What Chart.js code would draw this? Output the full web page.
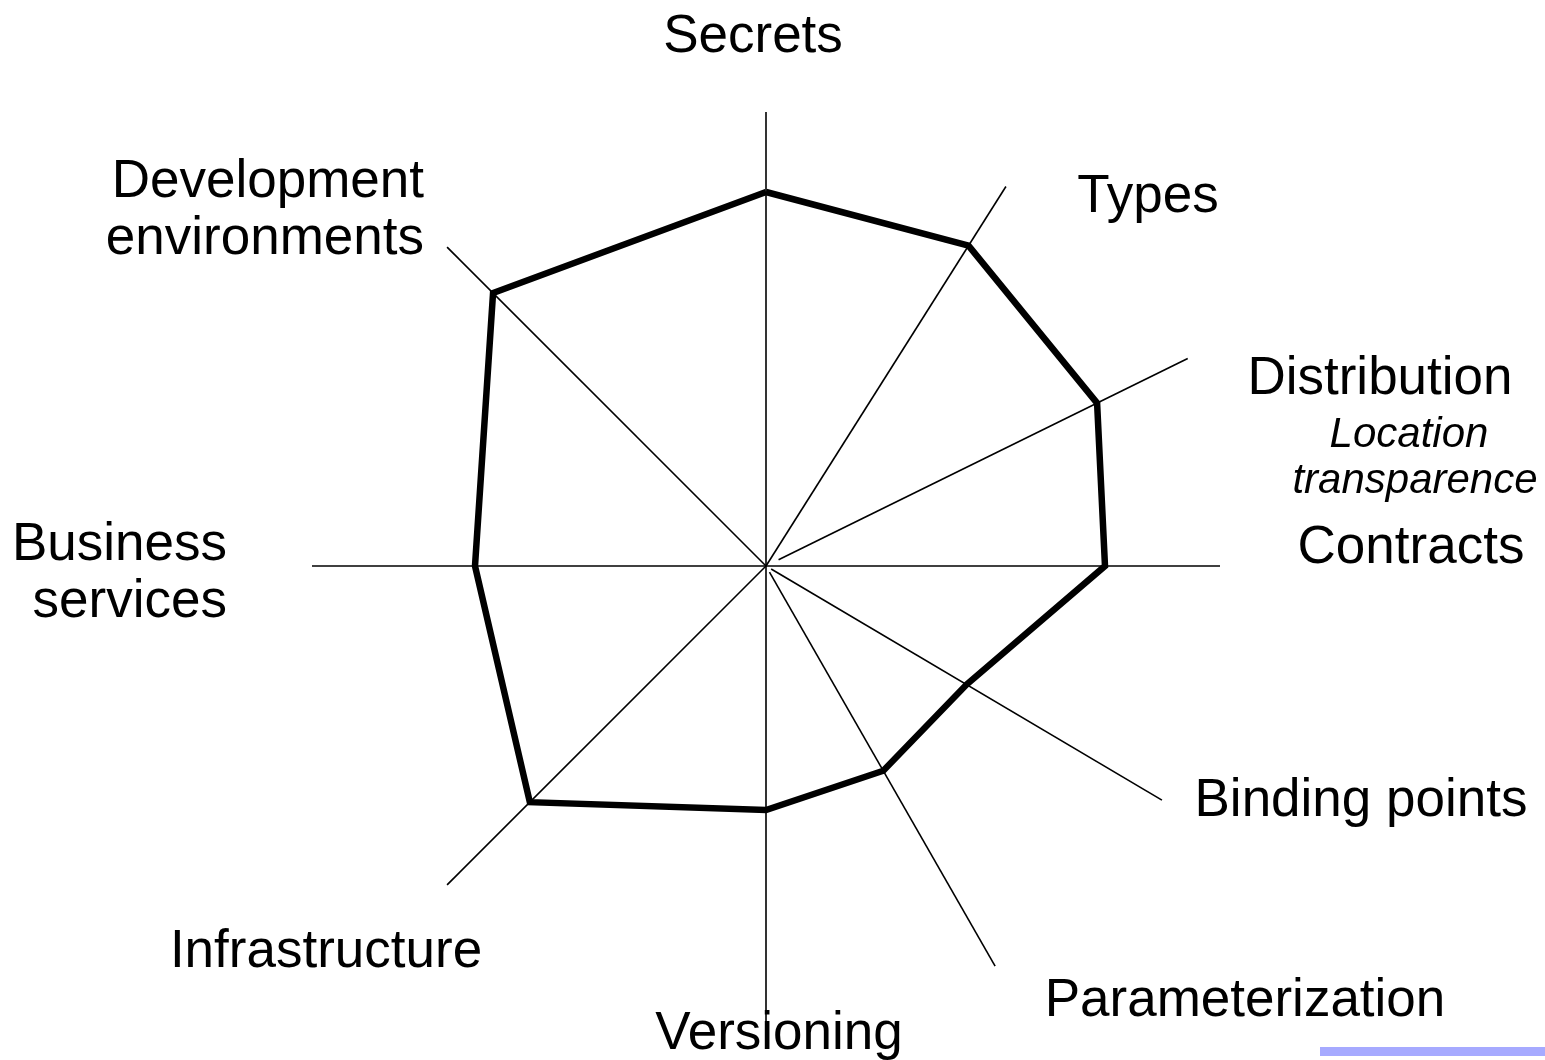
<!DOCTYPE html>
<html>
<head>
<meta charset="utf-8">
<title>Radar</title>
<script src="https://cdn.jsdelivr.net/npm/chart.js@4/dist/chart.umd.min.js"></script>
<style>
  html, body { margin: 0; padding: 0; background: #ffffff; }
  #radar { display: block; }
</style>
</head>
<body>
<canvas id="radar" width="1545" height="1060"></canvas>
<script>
// axes go round from the top, clockwise
const axisLabels = ["Secrets", "Types", "Distribution", "Contracts", "Binding points",
  "Parameterization", "Versioning", "Infrastructure", "Business services", "Development environments"]
const axisAngles = [90, 57.7, 26.2, 0, -30.6, -60.2, -90, -135, 180, 135]
const spokeLengths = [454, 449, 470, 454, 460, 461, 474, 451, 454, 451]
const spokeStarts = [0, 0, 14, 0, 6, 7, 0, 0, 0, 0]
const scores = [374, 379, 369, 339, 233, 236, 244, 334, 291, 386]
const subLabel = ["Location", "transparence"]

// where the text goes (chart units, baseline)
const labelPlacement = [
  { lines: ["Secrets"], x: -13, y: 514, align: "center" },
  { lines: ["Types"], x: 382, y: 354, align: "center" },
  { lines: ["Distribution"], x: 614, y: 172, align: "center" },
  { lines: ["Contracts"], x: 645, y: 3, align: "center" },
  { lines: ["Binding points"], x: 595, y: -250, align: "center" },
  { lines: ["Parameterization"], x: 479, y: -450, align: "center" },
  { lines: ["Versioning"], x: 13, y: -483, align: "center" },
  { lines: ["Infrastructure"], x: -440, y: -401, align: "center" },
  { lines: ["Business", "services"], x: -539, y: 6, align: "right" },
  { lines: ["Development", "environments"], x: -342, y: 369, align: "right" }
]
const subPlacement = { x: 643, y: 119, step: 46 }

function toPoint(radius, angle){
  const rad = angle * Math.PI / 180
  return { x: radius * Math.cos(rad), y: radius * Math.sin(rad) }
}

const spokeSets = axisAngles.map((angle, i) => ({
  data: [toPoint(spokeStarts[i], angle), toPoint(spokeLengths[i], angle)],
  borderColor: "#000000",
  borderWidth: 1.6,
  pointRadius: 0,
  showLine: true,
  order: 2
}))

const outline = scores.map((value, i) => toPoint(value, axisAngles[i]))
outline.push(outline[0])

const labelPlugin = {
  id: "axisText",
  afterDraw(chart){
    const ctx = chart.ctx
    const sx = chart.scales.x
    const sy = chart.scales.y
    ctx.save()
    ctx.fillStyle = "#000000"
    ctx.textBaseline = "alphabetic"
    ctx.font = "53px 'Liberation Sans', Arial, sans-serif"
    labelPlacement.forEach((place) => {
      ctx.textAlign = place.align
      place.lines.forEach((line, k) => {
        ctx.fillText(line, sx.getPixelForValue(place.x), sy.getPixelForValue(place.y - k * 57))
      })
    })
    ctx.font = "italic 42px 'Liberation Sans', Arial, sans-serif"
    ctx.textAlign = "center"
    subLabel.forEach((line, k) => {
      ctx.fillText(line, sx.getPixelForValue(subPlacement.x + k * 6), sy.getPixelForValue(subPlacement.y - k * subPlacement.step))
    })
    // little lavender bar bottom right
    ctx.fillStyle = "#a6aaff"
    const left = sx.getPixelForValue(554)
    const top = sy.getPixelForValue(-481)
    ctx.fillRect(left, top, sx.getPixelForValue(779) - left, sy.getPixelForValue(-490) - top)
    ctx.restore()
  }
}

new Chart(document.getElementById("radar"), {
  type: "scatter",
  data: {
    datasets: [
      ...spokeSets,
      {
        label: "Profile",
        data: outline,
        borderColor: "#000000",
        borderWidth: 6.5,
        borderJoinStyle: "miter",
        pointRadius: 0,
        showLine: true,
        tension: 0,
        order: 1
      }
    ]
  },
  options: {
    responsive: false,
    animation: false,
    layout: { padding: 0 },
    plugins: {
      legend: { display: false },
      tooltip: { enabled: false }
    },
    scales: {
      x: { type: "linear", min: -766, max: 779, display: false },
      y: { type: "linear", min: -494, max: 566, display: false }
    }
  },
  plugins: [labelPlugin]
})
</script>
</body>
</html>
